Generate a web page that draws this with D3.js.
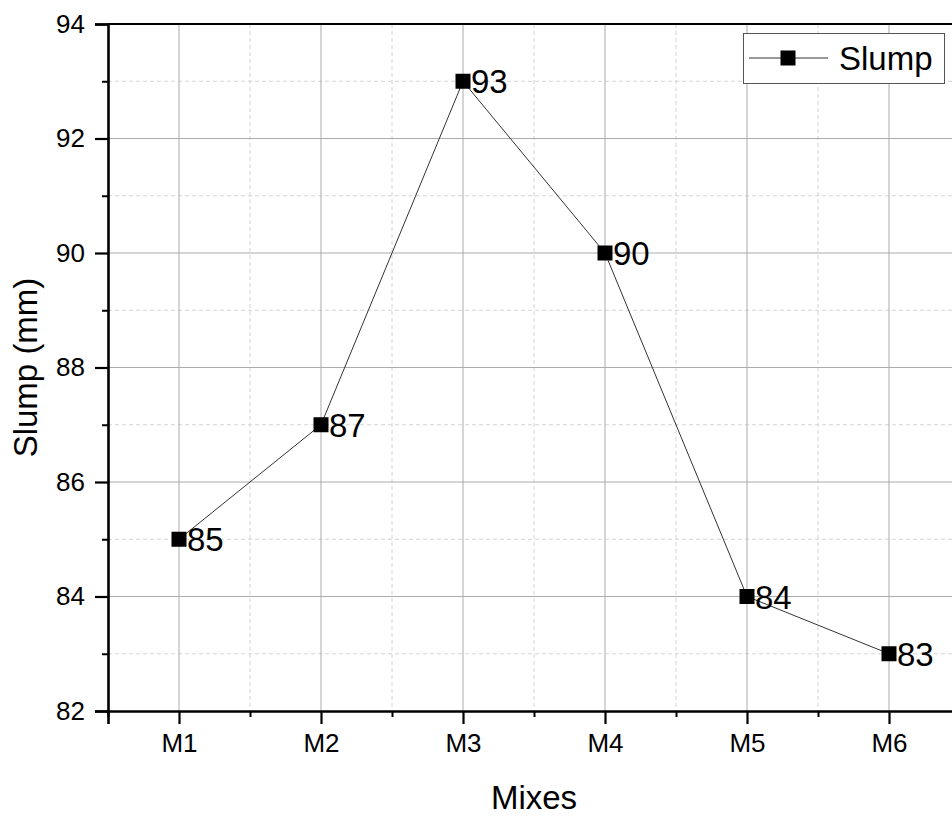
<!DOCTYPE html>
<html>
<head>
<meta charset="utf-8">
<script src="https://cdn.jsdelivr.net/npm/d3@7"></script>
<style>
  html, body { margin: 0; padding: 0; background: #fff; }
  svg { display: block; font-family: Arial, "Liberation Sans", sans-serif; }
</style>
</head>
<body>
<svg id="chart" width="952" height="816"></svg>
<script>
const categories = ["M1", "M2", "M3", "M4", "M5", "M6"];
const slumpValues = [85, 87, 93, 90, 84, 83];
const yTicks = [82, 84, 86, 88, 90, 92, 94];
const yMinorTicks = [83, 85, 87, 89, 91, 93];
const xMinorTicks = [0.5, 1.5, 2.5, 3.5, 4.5, 5.5, 6.5];
const seriesName = "Slump";
const xTitle = "Mixes";
const yTitle = "Slump (mm)";

(function () {
const svg = d3.select("#chart");
const pL = 108, pR = 960, pT = 24, pB = 711;

const x = d3.scaleLinear().domain([0.5, 6.5]).range([pL, pR]);
const y = d3.scaleLinear().domain([82, 94]).range([pB, pT]);
const xPos = i => x(i + 1);

// grid
const grid = svg.append("g");
grid.selectAll(".hminor").data(yMinorTicks).join("line")
  .attr("x1", pL).attr("x2", pR).attr("y1", d => y(d)).attr("y2", d => y(d))
  .attr("stroke", "#d4d4d4").attr("stroke-width", 1).attr("stroke-dasharray", "4,3");
grid.selectAll(".vminor").data(xMinorTicks.slice(1, -1)).join("line")
  .attr("y1", pT).attr("y2", pB).attr("x1", d => x(d)).attr("x2", d => x(d))
  .attr("stroke", "#d4d4d4").attr("stroke-width", 1).attr("stroke-dasharray", "4,3");
grid.selectAll(".hmajor").data(yTicks.slice(1, -1)).join("line")
  .attr("x1", pL).attr("x2", pR).attr("y1", d => y(d)).attr("y2", d => y(d))
  .attr("stroke", "#ababab").attr("stroke-width", 1);
grid.selectAll(".vmajor").data(categories).join("line")
  .attr("y1", pT).attr("y2", pB).attr("x1", (d, i) => xPos(i)).attr("x2", (d, i) => xPos(i))
  .attr("stroke", "#ababab").attr("stroke-width", 1);

// frame top/right
svg.append("line").attr("x1", pL).attr("x2", pR).attr("y1", pT).attr("y2", pT)
  .attr("stroke", "#000").attr("stroke-width", 2.2);
svg.append("line").attr("x1", pR).attr("x2", pR).attr("y1", pT).attr("y2", pB)
  .attr("stroke", "#000").attr("stroke-width", 2.2);

// minor tick axes
const xMinorAxis = d3.axisBottom(x).tickValues(xMinorTicks).tickSize(6).tickFormat("");
svg.append("g").attr("transform", `translate(0,${pB})`).call(xMinorAxis)
  .call(g => g.select(".domain").remove())
  .call(g => g.selectAll(".tick line").attr("stroke", "#000").attr("stroke-width", 2));
const yMinorAxis = d3.axisLeft(y).tickValues(yMinorTicks).tickSize(6).tickFormat("");
svg.append("g").attr("transform", `translate(${pL},0)`).call(yMinorAxis)
  .call(g => g.select(".domain").remove())
  .call(g => g.selectAll(".tick line").attr("stroke", "#000").attr("stroke-width", 2));

// major axes
const xAxis = d3.axisBottom(x).tickValues(categories.map((c, i) => i + 1))
  .tickFormat(d => categories[d - 1]).tickSize(13).tickPadding(10);
svg.append("g").attr("transform", `translate(0,${pB})`).call(xAxis)
  .call(g => g.select(".domain").attr("stroke", "#000").attr("stroke-width", 2.6))
  .call(g => g.selectAll(".tick line").attr("stroke", "#000").attr("stroke-width", 2.2))
  .call(g => g.selectAll(".tick text").attr("font-size", 26).attr("fill", "#000")
    .attr("font-family", "Arial, 'Liberation Sans', sans-serif"));

const yAxis = d3.axisLeft(y).tickValues(yTicks).tickSize(13).tickPadding(10);
svg.append("g").attr("transform", `translate(${pL},0)`).call(yAxis)
  .call(g => g.select(".domain").attr("stroke", "#000").attr("stroke-width", 2.6))
  .call(g => g.selectAll(".tick line").attr("stroke", "#000").attr("stroke-width", 2.2))
  .call(g => g.selectAll(".tick text").attr("font-size", 26).attr("fill", "#000")
    .attr("font-family", "Arial, 'Liberation Sans', sans-serif"));

// axis titles
svg.append("text").attr("x", 534).attr("y", 809)
  .attr("text-anchor", "middle").attr("font-size", 33).attr("fill", "#000").text(xTitle);
svg.append("text").attr("transform", `translate(37,${(pT + pB) / 2}) rotate(-90)`)
  .attr("text-anchor", "middle").attr("font-size", 33).attr("fill", "#000").text(yTitle);

// line
const line = d3.line().x((d, i) => xPos(i)).y(d => y(d));
svg.append("path").datum(slumpValues).attr("d", line)
  .attr("fill", "none").attr("stroke", "#333").attr("stroke-width", 1);

// markers
const ms = 15;
svg.selectAll(".pt").data(slumpValues).join("rect")
  .attr("x", (d, i) => xPos(i) - ms / 2).attr("y", d => y(d) - ms / 2)
  .attr("width", ms).attr("height", ms).attr("fill", "#000");

// data labels
svg.selectAll(".lbl").data(slumpValues).join("text")
  .attr("x", (d, i) => xPos(i) + 8).attr("y", d => y(d) + 12)
  .attr("font-size", 33).attr("fill", "#000").text(d => d);

// legend
const lg = svg.append("g");
lg.append("rect").attr("x", 743.5).attr("y", 33.5).attr("width", 201).attr("height", 50)
  .attr("fill", "#fff").attr("stroke", "#555").attr("stroke-width", 1);
lg.append("line").attr("x1", 749).attr("x2", 828).attr("y1", 58).attr("y2", 58)
  .attr("stroke", "#333").attr("stroke-width", 1);
lg.append("rect").attr("x", 788 - ms / 2).attr("y", 58 - ms / 2).attr("width", ms).attr("height", ms)
  .attr("fill", "#000");
lg.append("text").attr("x", 839).attr("y", 70).attr("font-size", 33).attr("fill", "#000").text(seriesName);
})();
</script>
</body>
</html>
